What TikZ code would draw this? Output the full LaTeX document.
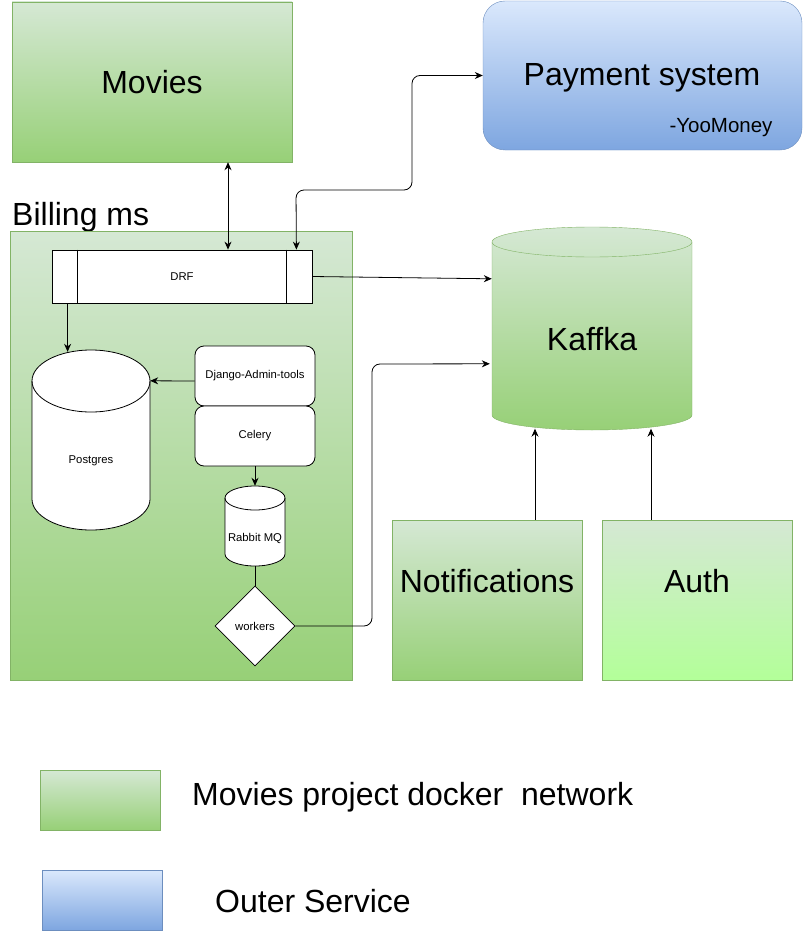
\documentclass[tikz,border=0pt]{standalone}
\usepackage{fontspec}
\setmainfont{Liberation Sans}
\usetikzlibrary{arrows.meta,calc,shapes.geometric}
\definecolor{gtop}{HTML}{D5E8D4}
\definecolor{gbot}{HTML}{97D077}
\definecolor{gline}{HTML}{82B366}
\definecolor{btop}{HTML}{DAE8FC}
\definecolor{bbot}{HTML}{7EA6E0}
\definecolor{bline}{HTML}{6C8EBF}
\definecolor{abot}{HTML}{B3FF99}
\begin{document}
\begin{tikzpicture}[x=1pt,y=-1pt,
 big/.style={font=\fontsize{32}{38}\selectfont},
 mid/.style={font=\fontsize{20.5}{24}\selectfont},
 small/.style={font=\fontsize{11.3}{13}\selectfont},
 greenbox/.style={draw=gline, top color=gtop, bottom color=gbot, inner sep=0pt},
 authbox/.style={draw=gline, top color=gtop, bottom color=abot, inner sep=0pt},
 bluebox/.style={draw=bline, top color=btop, bottom color=bbot, inner sep=0pt},
 whitebox/.style={draw=black, fill=white, inner sep=0pt, line width=0.8pt},
 ghost/.style={inner sep=0pt, draw=none},
 conn/.style={draw=black, line width=0.8pt, -{Stealth[length=8pt,width=7pt]}},
 biconn/.style={draw=black, line width=0.8pt, {Stealth[length=8pt,width=7pt]}-{Stealth[length=8pt,width=7pt]}},
 plainline/.style={draw=black, line width=0.8pt},
]
\useasboundingbox (0,0) rectangle (803,931);

% Movies
\node[greenbox, big, minimum width=280pt, minimum height=160pt] (movies) at (152,82) {Movies};
% Payment system
\node[bluebox, rounded corners=22pt, minimum width=319pt, minimum height=149pt] (payment) at (642.5,75.5) {};
\node[big, inner sep=0pt] (paytxt) at (642,77.5) {Payment system};
\node[mid, inner sep=0pt] (yoomoney) at (721,128) {-YooMoney};

% Billing container
\node[big, anchor=base west, inner sep=0pt] (billinglbl) at (12,225) {Billing ms};
\node[greenbox, minimum width=342pt, minimum height=449pt] (billing) at (181,455.5) {};

% DRF
\node[whitebox, small, minimum width=260pt, minimum height=53pt] (drf) at (182,276.5) {DRF};
\draw[plainline] ($(drf.north west)+(26,0)$) -- ($(drf.south west)+(26,0)$);
\draw[plainline] ($(drf.north east)+(-26,0)$) -- ($(drf.south east)+(-26,0)$);

% Postgres cylinder
\path[whitebox] (32,381) -- (32,499) arc[start angle=180,end angle=360,x radius=59pt,y radius=31pt]
  -- (150,381) arc[start angle=0,end angle=180,x radius=59pt,y radius=31pt] -- cycle;
\draw[plainline] (32,381) arc[start angle=180,end angle=360,x radius=59pt,y radius=31pt];
\node[ghost, minimum width=118pt, minimum height=180pt] (postgres) at (91,440) {};
\node[small, inner sep=0pt] (postgrestxt) at (91,461) {Postgres};

% Django-Admin-tools and Celery
\node[whitebox, small, rounded corners=9pt, minimum width=120pt, minimum height=60pt] (django) at (255,376) {Django-Admin-tools};
\node[whitebox, small, rounded corners=9pt, minimum width=120pt, minimum height=60pt] (celery) at (255,436) {Celery};

% Rabbit MQ cylinder
\path[whitebox] (225,498) -- (225,554) arc[start angle=180,end angle=360,x radius=30pt,y radius=12pt]
  -- (285,498) arc[start angle=0,end angle=180,x radius=30pt,y radius=12pt] -- cycle;
\draw[plainline] (225,498) arc[start angle=180,end angle=360,x radius=30pt,y radius=12pt];
\node[ghost, minimum width=60pt, minimum height=80pt] (rabbit) at (255,526) {};
\node[small, inner sep=0pt] (rabbittxt) at (255,538) {Rabbit MQ};

% workers
\node[whitebox, small, diamond, minimum width=80pt, minimum height=80pt] (workers) at (255,626) {workers};

% Kaffka cylinder
\path[greenbox] (492,242) -- (492,415) arc[start angle=180,end angle=360,x radius=100pt,y radius=15pt]
  -- (692,242) arc[start angle=0,end angle=180,x radius=100pt,y radius=15pt] -- cycle;
\draw[gline] (492,242) arc[start angle=180,end angle=360,x radius=100pt,y radius=15pt];
\node[ghost, minimum width=200pt, minimum height=203pt] (kaffka) at (592,328.5) {};
\node[big, inner sep=0pt] (kaffkatxt) at (592,339) {Kaffka};

% Notifications and Auth
\node[greenbox, minimum width=190pt, minimum height=160pt, label={[big,yshift=19pt]center:Notifications}] (notif) at (487,600) {};
\node[authbox, minimum width=190pt, minimum height=160pt, label={[big,yshift=19pt]center:Auth}] (auth) at (697,600) {};

% Legend
\node[greenbox, minimum width=120pt, minimum height=60pt] (leg1) at (100,800) {};
\node[big, anchor=west, inner sep=0pt] (leg1txt) at (192,797) {Movies project docker\ \ network};
\node[bluebox, minimum width=120pt, minimum height=60pt] (leg2) at (102,900) {};
\node[big, anchor=west, inner sep=0pt] (leg2txt) at (215,901) {Outer Service};

% Connectors
\draw[biconn] ($(movies.south)+(76,0)$) -- ($(drf.north)+(46,0)$);
\draw[biconn, rounded corners=8pt] ($(drf.north east)+(-16,0)$) -- (296,190) -- (412,190) -- (412,75.5) -- (payment.west);
\draw[conn] (drf.east) -- ($(kaffka.north west)+(0,52)$);
\coordinate (pgin) at ($(drf.south west)+(16,0)$);
\draw[conn] (pgin) -- ($(pgin |- postgres.north)+(0,2)$);
\draw[conn] ($(django.west)+(0,5)$) -- ($(postgres.north east)+(0,31)$);
\draw[conn] (celery.south) -- (rabbit.north);
\draw[plainline] (rabbit.south) -- (workers.north);
\draw[conn, rounded corners=8pt] (workers.east) -- (372,626) -- (372,364) -- ($(kaffka.north west)+(-2,137)$);
\draw[conn] ($(notif.north)+(48,0)$) -- ($(kaffka.south)+(-57,-1.5)$);
\draw[conn] ($(auth.north)+(-46,0)$) -- ($(kaffka.south)+(59,-1.5)$);
\end{tikzpicture}
\end{document}
